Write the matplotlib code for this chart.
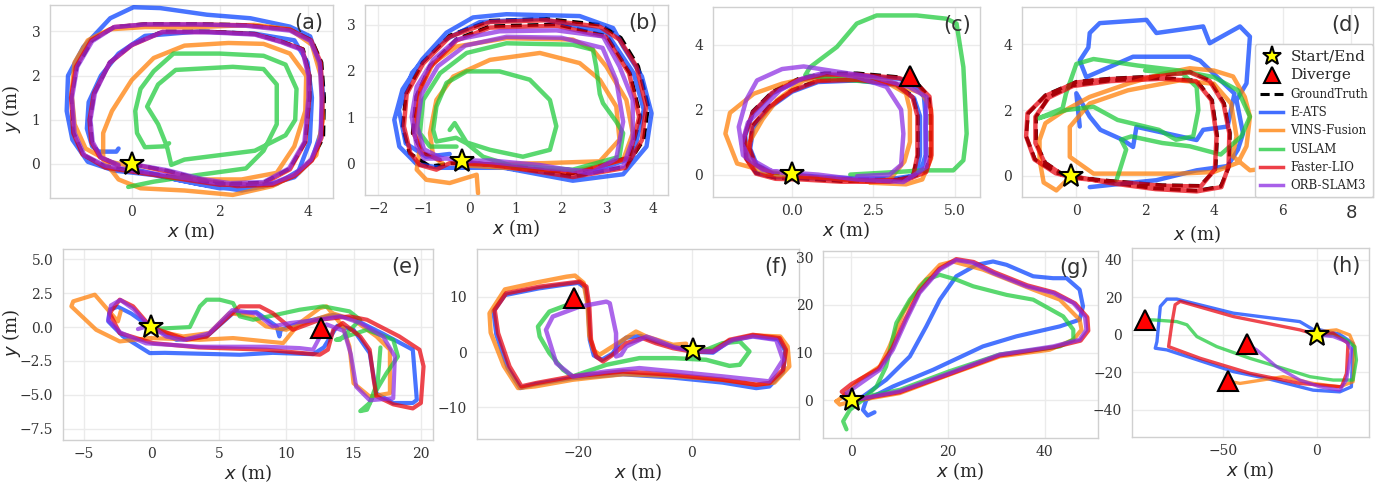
import numpy as np
import matplotlib.pyplot as plt
from matplotlib.lines import Line2D

plt.rcParams['font.family'] = ['DejaVu Serif']
plt.rcParams['mathtext.fontset'] = 'dejavusans'

W, H = 1391, 484

METHODS = ['E-ATS', 'VINS-Fusion', 'USLAM', 'Faster-LIO', 'ORB-SLAM3']
COLORS = {'E-ATS': '#023eff', 'VINS-Fusion': '#ff7c00', 'USLAM': '#1ac938',
          'Faster-LIO': '#e8000b', 'ORB-SLAM3': '#8b2be2'}

# ---------------- (a) ----------------
A_GT = [(0.0, 0.0), (0.8, -0.15), (1.6, -0.35), (2.4, -0.48), (3.2, -0.45), (3.7, -0.25), (4.1, 0.1),
        (4.36, 0.6), (4.38, 1.5), (4.32, 2.3), (4.1, 2.8), (3.6, 3.05), (2.6, 3.15), (1.5, 3.17),
        (0.3, 3.17), (-0.4, 3.1), (-0.9, 2.8), (-1.25, 2.2), (-1.37, 1.5), (-1.32, 0.7), (-1.1, 0.2),
        (-0.6, -0.05), (0.0, -0.15), (1.0, -0.3), (2.0, -0.45), (3.0, -0.42), (3.6, -0.1), (3.95, 0.5),
        (4.05, 1.5), (4.05, 2.0), (3.9, 2.6), (3.4, 2.78), (2.8, 2.95), (1.8, 3.0), (0.7, 3.0),
        (0.0, 2.7), (-0.5, 2.3), (-0.85, 1.6), (-0.95, 1.0), (-0.9, 0.5), (-0.7, 0.15), (-0.3, -0.02)]
A_EATS = [(0.0, -0.1), (1.0, -0.35), (2.0, -0.55), (3.0, -0.5), (3.7, -0.3), (4.1, 0.1), (4.3, 0.7),
          (4.35, 1.6), (4.29, 2.2), (4.06, 2.89), (3.6, 3.11), (2.7, 3.3), (1.71, 3.38), (0.65, 3.53),
          (0.04, 3.55), (-0.49, 3.3), (-1.1, 2.65), (-1.45, 2.0), (-1.48, 1.2), (-1.35, 0.55),
          (-1.0, 0.05), (-0.4, -0.15), (0.5, -0.25), (1.5, -0.45), (2.5, -0.6), (3.3, -0.45),
          (3.8, -0.15), (4.05, 0.5), (4.1, 1.5), (4.0, 2.3), (3.7, 2.8), (2.8, 2.95), (1.5, 3.0),
          (0.3, 2.9), (-0.3, 2.5), (-0.7, 2.0), (-0.98, 1.4), (-1.02, 0.8), (-0.9, 0.4), (-0.75, 0.28),
          (-0.35, 0.28), (-0.3, 0.35)]
A_VINS = [(0.0, -0.05), (-0.5, 0.05), (-1.05, 0.35), (-1.3, 0.9), (-1.37, 1.6), (-1.3, 2.3), (-1.0, 2.8),
          (-0.5, 3.05), (0.3, 3.1), (1.5, 3.1), (2.8, 3.15), (3.6, 3.05), (4.1, 2.7), (4.3, 2.0),
          (4.35, 1.0), (4.2, 0.2), (3.8, -0.2), (3.2, -0.5), (2.3, -0.7), (1.2, -0.6), (0.2, -0.55),
          (-0.3, -0.35), (-0.65, 0.1), (-0.65, 0.7), (-0.45, 1.2), (0.0, 1.9), (0.5, 2.4), (1.2, 2.68),
          (2.2, 2.74), (3.0, 2.72), (3.6, 2.5), (3.97, 2.0), (3.95, 1.2), (3.7, 0.4), (3.3, -0.2),
          (2.5, -0.35), (1.5, -0.35), (0.8, -0.3)]
A_USLAM = [(0.85, 0.47), (0.75, 0.4), (0.3, 0.38), (0.12, 0.7), (0.08, 1.2), (0.2, 1.7), (0.5, 2.1),
           (0.95, 2.5), (2.0, 2.5), (3.0, 2.45), (3.5, 2.25), (3.75, 1.7), (3.72, 1.0), (3.5, 0.65),
           (2.8, 0.3), (2.0, 0.2), (1.2, 0.1), (0.9, -0.02), (0.8, 0.4), (0.6, 0.9), (0.35, 1.3),
           (0.6, 1.8), (1.0, 2.13), (2.3, 2.2), (3.0, 2.15), (3.3, 1.8), (3.3, 0.9), (3.0, 0.3),
           (2.6, -0.1), (1.5, -0.25), (0.5, -0.4), (-0.08, -0.52)]
A_FLIO = [(0.0, 0.0), (0.8, -0.17), (1.6, -0.37), (2.4, -0.5), (3.2, -0.47), (3.7, -0.27), (4.1, 0.08),
          (4.32, 0.6), (4.34, 1.5), (4.3, 2.3), (4.08, 2.8), (3.6, 3.04), (2.6, 3.14), (1.5, 3.16),
          (0.3, 3.16), (-0.4, 3.1), (-0.92, 2.8), (-1.27, 2.2), (-1.38, 1.5), (-1.33, 0.7), (-1.12, 0.22),
          (-0.6, -0.08), (0.0, -0.17), (1.0, -0.32), (2.0, -0.47), (3.0, -0.44), (3.6, -0.12), (3.95, 0.5),
          (4.04, 1.5), (4.04, 2.0), (3.88, 2.6), (3.4, 2.77), (2.8, 2.94), (1.8, 2.99), (0.7, 2.99),
          (0.0, 2.69), (-0.5, 2.29), (-0.86, 1.6), (-0.96, 1.0), (-0.92, 0.5), (-0.72, 0.15), (-0.3, -0.04)]
A_ORB = [(0.0, 0.0), (0.8, -0.14), (1.6, -0.34), (2.4, -0.46), (3.2, -0.44), (3.7, -0.24), (4.08, 0.1),
         (4.3, 0.6), (4.32, 1.5), (4.28, 2.3), (4.06, 2.79), (3.6, 3.02), (2.6, 3.13), (1.5, 3.16),
         (0.3, 3.16), (-0.4, 3.1), (-0.9, 2.78), (-1.24, 2.2), (-1.36, 1.5), (-1.3, 0.7), (-1.08, 0.2),
         (-0.6, -0.04), (0.0, -0.14), (1.0, -0.29), (2.0, -0.44), (3.0, -0.41), (3.58, -0.1), (3.93, 0.5),
         (4.02, 1.5), (4.02, 2.0), (3.88, 2.58), (3.4, 2.76), (2.8, 2.93), (1.8, 2.98), (0.7, 2.99),
         (0.0, 2.7), (-0.5, 2.3), (-0.84, 1.6), (-0.94, 1.0), (-0.89, 0.5), (-0.7, 0.15), (-0.3, -0.02)]

# ---------------- (b) ----------------
B_GT = [(-0.18, 0.04), (0.8, -0.07), (2.25, -0.29), (3.42, -0.07), (3.8, 0.51), (3.9, 1.23), (3.68, 2.1),
        (3.3, 2.72), (2.86, 3.0), (1.67, 3.13), (0.44, 3.09), (-0.44, 2.77), (-1.03, 2.19), (-1.39, 1.52),
        (-1.47, 0.8), (-1.32, 0.22), (-0.87, -0.07), (-0.4, 0.0), (0.6, -0.02), (2.25, -0.22),
        (3.5, 0.14), (3.73, 1.01), (3.5, 1.95), (2.99, 2.76), (1.89, 3.01), (0.44, 2.97), (-0.29, 2.69),
        (-0.87, 2.11), (-1.17, 1.45), (-1.25, 0.65), (-1.03, 0.22), (-0.65, 0.07)]
B_EATS = [(-0.18, 0.04), (0.8, -0.11), (2.25, -0.38), (3.35, -0.24), (3.86, 0.36), (3.97, 1.08),
          (3.76, 1.88), (3.35, 2.53), (3.13, 2.93), (2.4, 3.19), (0.8, 3.23), (0.07, 3.16), (-0.51, 2.83),
          (-1.04, 2.25), (-1.47, 1.6), (-1.65, 0.94), (-1.54, 0.36), (-1.16, -0.02), (-0.65, -0.1),
          (0.8, -0.1), (2.25, -0.33), (3.56, 0.12), (3.8, 1.16), (3.58, 1.95), (2.98, 2.84), (1.53, 3.13),
          (0.22, 3.06), (-0.65, 2.62), (-1.26, 1.96), (-1.55, 1.16), (-1.4, 0.43), (-0.95, 0.14),
          (-0.44, 0.2)]
B_VINS = [(0.18, -0.65), (0.15, -0.25), (-0.44, -0.43), (-0.95, -0.36), (-1.16, -0.14), (-1.09, 0.36),
          (-1.16, 0.94), (-1.09, 1.59), (-0.8, 2.17), (-0.29, 2.53), (0.8, 2.71), (2.25, 2.68),
          (2.69, 2.46), (2.98, 2.1), (3.42, 1.37), (3.56, 0.65), (3.35, 0.07), (2.25, -0.18), (0.8, -0.1),
          (-0.1, -0.05), (0.5, -0.02), (1.6, 0.0), (2.84, 0.04), (3.27, 0.51), (3.2, 1.23), (2.84, 1.81),
          (2.4, 2.17), (1.53, 2.39), (0.44, 2.24), (-0.36, 1.88), (-0.73, 1.37), (-0.87, 0.65),
          (-0.8, 0.14), (-0.6, 0.0)]
B_USLAM = [(-0.29, 0.36), (-0.87, 0.36), (-1.09, 0.65), (-1.02, 1.37), (-0.65, 1.95), (-0.07, 2.39),
           (0.8, 2.6), (2.25, 2.57), (2.69, 2.46), (2.76, 2.1), (2.84, 1.5), (2.91, 1.3), (3.2, 0.9),
           (3.35, 0.65), (3.27, 0.14), (2.25, -0.14), (0.9, -0.05), (0.29, 0.14), (-0.07, 0.43),
           (-0.3, 0.55), (-0.73, 0.47), (-0.8, 0.72), (-0.73, 1.23), (-0.51, 1.74), (-0.07, 1.99),
           (0.65, 1.99), (1.31, 1.81), (1.75, 1.37), (1.89, 0.8), (1.75, 0.29), (1.16, 0.14), (0.44, 0.29),
           (-0.07, 0.45), (-0.33, 0.87), (-0.44, 0.72)]
B_FLIO = [(-0.18, 0.04), (0.8, -0.08), (2.25, -0.3), (3.4, -0.1), (3.76, 0.5), (3.85, 1.23), (3.64, 2.1),
          (3.27, 2.68), (2.84, 2.96), (1.67, 3.1), (0.44, 3.06), (-0.44, 2.74), (-1.02, 2.16), (-1.38, 1.5),
          (-1.44, 0.8), (-1.3, 0.22), (-1.09, -0.04), (-0.73, -0.14), (-0.44, 0.0), (0.6, -0.04),
          (2.25, -0.24), (3.48, 0.12), (3.7, 1.0), (3.48, 1.95), (2.97, 2.74), (1.89, 2.98), (0.44, 2.94),
          (-0.29, 2.66), (-0.87, 2.08), (-1.16, 1.44), (-1.23, 0.65), (-1.02, 0.22), (-0.65, 0.07)]
B_ORB = [(-0.18, 0.04), (0.44, 0.06), (1.53, -0.04), (2.62, -0.22), (3.35, -0.07), (3.56, 0.51),
         (3.56, 1.37), (3.27, 2.1), (2.91, 2.75), (1.89, 2.88), (0.65, 2.86), (-0.29, 2.68), (-0.8, 2.24),
         (-1.16, 1.66), (-1.27, 1.01), (-1.16, 0.36), (-1.0, 0.1), (-0.5, 0.1), (0.5, 0.02), (1.8, -0.12),
         (2.7, -0.18), (3.2, 0.1), (3.35, 0.9), (3.2, 1.8), (2.9, 2.5), (2.0, 2.72), (0.8, 2.74),
         (-0.1, 2.55), (-0.7, 2.1), (-1.05, 1.5), (-1.15, 0.8), (-1.0, 0.3), (-0.6, 0.1)]

# ---------------- (c) ----------------
C_GT = [(0.0, 0.0), (1.0, -0.1), (2.0, -0.15), (3.5, -0.15), (4.1, 0.1), (4.25, 0.6), (4.25, 1.8),
        (4.2, 2.4), (3.9, 2.75), (3.3, 3.0), (2.0, 3.12), (1.0, 3.12), (0.2, 2.95), (-0.6, 2.55),
        (-1.2, 1.95), (-1.45, 1.2), (-1.4, 0.5), (-1.1, 0.05), (-0.5, -0.1), (0.3, -0.12), (1.5, -0.2),
        (3.0, -0.2), (3.7, -0.05), (3.87, 0.6), (3.87, 1.8), (3.72, 2.4), (3.2, 2.8), (2.0, 2.95),
        (0.8, 2.9), (0.0, 2.6), (-0.7, 2.1), (-1.2, 1.5), (-1.3, 0.8), (-1.1, 0.3), (-0.6, 0.05), (0.0, 0.0)]
C_EATS = [(0.0, 0.0), (1.0, -0.08), (2.0, -0.12), (3.5, -0.12), (3.95, 0.1), (4.1, 0.6), (4.1, 1.8),
          (4.05, 2.4), (3.8, 2.7), (3.3, 2.95), (2.0, 3.05), (1.0, 3.05), (0.2, 2.9), (-0.6, 2.5),
          (-1.2, 1.9), (-1.43, 1.2), (-1.38, 0.5), (-1.08, 0.05), (-0.5, -0.08), (0.3, -0.1), (1.5, -0.15),
          (3.0, -0.15), (3.8, -0.02), (3.93, 0.6), (3.93, 1.8), (3.75, 2.35), (3.2, 2.75), (2.0, 2.9),
          (0.8, 2.85), (0.0, 2.55), (-0.7, 2.05), (-1.18, 1.45), (-1.28, 0.8), (-1.08, 0.3), (-0.6, 0.05)]
C_VINS = [(0.0, 0.0), (-0.8, 0.1), (-1.68, 0.34), (-2.04, 1.26), (-1.9, 1.9), (-1.17, 2.49), (-0.3, 2.8),
          (0.15, 2.9), (1.5, 3.0), (2.8, 2.9), (3.5, 2.5), (3.62, 2.0), (3.62, 1.0), (3.45, 0.4),
          (3.0, -0.15), (2.4, -0.23), (1.0, -0.1), (0.0, -0.05), (-0.8, 0.0), (-1.33, 0.4), (-1.33, 0.95),
          (-0.9, 1.7), (-0.46, 2.29), (0.36, 2.9), (1.5, 2.95), (3.0, 2.85), (4.0, 2.5), (4.27, 2.0),
          (4.27, 0.5), (4.0, -0.15), (3.5, -0.3), (2.4, -0.25)]
C_USLAM = [(1.79, 0.0), (3.21, 0.08), (4.03, 0.13), (4.95, 0.13), (5.26, 0.44), (5.36, 1.26), (5.3, 2.5),
           (5.26, 3.31), (5.05, 4.65), (4.74, 4.8), (3.83, 4.9), (2.6, 4.9), (1.99, 4.65), (1.38, 3.93),
           (0.56, 3.31), (0.41, 3.06), (1.2, 2.95), (2.5, 2.85)]
C_FLIO = [(0.0, 0.0), (1.0, -0.12), (2.0, -0.17), (3.5, -0.17), (4.12, 0.08), (4.28, 0.6), (4.28, 1.8),
          (4.22, 2.4), (3.9, 2.72), (3.3, 2.97), (2.0, 3.08), (1.0, 3.08), (0.2, 2.92), (-0.6, 2.52),
          (-1.2, 1.92), (-1.45, 1.2), (-1.41, 0.5), (-1.1, 0.03), (-0.5, -0.13), (0.3, -0.15), (1.5, -0.22),
          (3.0, -0.22), (3.72, -0.07), (3.85, 0.6), (3.85, 1.8), (3.7, 2.38), (3.2, 2.78), (2.0, 2.92),
          (0.8, 2.88), (0.0, 2.58), (-0.7, 2.08), (-1.22, 1.5), (-1.3, 0.8), (-1.12, 0.3), (-0.6, 0.03)]
C_ORB = [(0.0, 0.02), (-0.9, 0.15), (-1.5, 0.6), (-1.63, 1.47), (-1.4, 2.3), (-1.07, 2.9), (-0.3, 3.25),
         (0.36, 3.33), (1.2, 3.2), (2.5, 3.0), (3.6, 2.7), (4.13, 2.39), (4.1, 1.5), (4.13, 0.24),
         (3.42, -0.23), (2.0, -0.15), (0.8, 0.0), (-0.6, 0.1), (-1.3, 0.5), (-1.53, 0.95), (-1.35, 1.6),
         (-0.97, 1.98), (-0.36, 2.6), (0.3, 2.95), (1.07, 3.16), (2.0, 3.0), (2.9, 2.7), (3.35, 2.0),
         (3.42, 1.26), (3.35, 0.3), (3.0, 0.0), (2.0, -0.05)]

# ---------------- (d) ----------------
D_GT = [(-0.15, 0.0), (1.0, -0.2), (2.3, -0.38), (3.5, -0.45), (4.2, -0.32), (4.45, 0.3), (4.47, 1.3),
        (4.3, 2.2), (3.9, 2.9), (3.3, 3.17), (2.2, 3.02), (1.0, 2.96), (0.0, 2.86), (-0.9, 2.45),
        (-1.4, 1.9), (-1.46, 1.2), (-1.2, 0.5), (-0.6, 0.1), (0.0, -0.05), (1.0, -0.15), (2.5, -0.28),
        (3.6, -0.3), (4.05, 0.2), (4.1, 1.2), (3.95, 2.3), (3.5, 2.9), (2.5, 2.97), (1.0, 2.9),
        (-0.1, 2.75), (-0.8, 2.4), (-1.17, 1.8), (-1.17, 1.0), (-0.9, 0.4), (-0.4, 0.05)]
D_EATS = [(0.39, -0.34), (1.2, -0.25), (2.33, -0.13), (3.5, 0.17), (4.4, 0.3), (4.7, 0.8), (4.85, 1.29),
          (4.66, 2.3), (4.95, 2.81), (5.05, 4.23), (4.76, 4.54), (3.88, 4.03), (3.69, 4.54), (2.33, 4.34),
          (2.04, 4.74), (0.68, 4.64), (0.39, 4.34), (0.35, 3.9), (0.1, 3.5), (0.29, 3.0), (1.65, 3.62),
          (3.3, 3.62), (3.6, 3.5), (4.6, 2.5), (4.4, 1.5), (3.69, 1.4), (3.5, 1.09), (1.75, 1.49),
          (1.65, 0.88), (1.36, 1.09), (0.7, 1.4), (0.39, 1.8), (0.0, 2.51), (0.1, 1.5)]
D_VINS = [(-0.15, 0.0), (-0.58, -0.44), (-0.95, -0.2), (-1.07, 0.5), (-1.07, 1.09), (-0.9, 1.6),
          (-0.4, 1.95), (0.39, 2.4), (1.5, 2.8), (2.5, 3.1), (3.3, 3.27), (4.0, 3.2), (4.56, 3.02),
          (4.9, 2.4), (5.05, 1.8), (4.95, 0.9), (4.7, 0.4), (4.0, 0.12), (3.0, 0.07), (1.5, 0.07),
          (0.5, 0.07), (-0.19, 0.58), (-0.19, 1.49), (0.39, 2.2), (1.5, 2.6), (3.0, 2.9), (4.0, 2.8),
          (4.5, 2.2), (4.66, 1.2), (4.55, 0.6), (5.05, 0.17), (5.3, 0.2)]
D_USLAM = [(1.17, -0.13), (1.3, 0.3), (1.45, 0.8), (1.3, 1.1), (1.6, 1.2), (2.5, 1.0), (3.3, 0.9),
           (4.2, 0.65), (4.8, 1.2), (5.05, 1.8), (4.7, 2.6), (4.0, 3.0), (3.0, 3.2), (1.8, 3.35),
           (0.5, 3.55), (0.0, 3.4), (-0.3, 2.5), (-0.4, 2.05), (-1.1, 1.75), (-0.3, 2.0), (0.5, 2.1),
           (1.2, 1.7), (2.4, 1.4), (2.9, 1.1), (3.4, 1.2), (3.55, 2.0), (3.5, 2.7), (3.1, 3.1), (2.0, 3.2)]
D_FLIO = [(-0.15, 0.0), (1.0, -0.22), (2.3, -0.4), (3.5, -0.47), (4.22, -0.34), (4.43, 0.3), (4.45, 1.3),
          (4.28, 2.2), (3.88, 2.88), (3.3, 3.15), (2.2, 3.0), (1.0, 2.94), (0.0, 2.84), (-0.9, 2.43),
          (-1.42, 1.9), (-1.46, 1.2), (-1.22, 0.5), (-0.6, 0.08), (0.0, -0.07), (1.0, -0.17), (2.5, -0.3),
          (3.62, -0.32), (4.03, 0.2), (4.08, 1.2), (3.93, 2.3), (3.48, 2.88), (2.5, 2.95), (1.0, 2.88),
          (-0.1, 2.73), (-0.8, 2.38), (-1.19, 1.8), (-1.19, 1.0), (-0.92, 0.4), (-0.4, 0.03)]

# ---------------- (e) ----------------
E_EATS = [(0.0, 0.0), (1.86, -0.94), (4.1, -0.7), (6.06, 1.03), (7.8, 1.1), (9.3, 0.05), (9.5, -0.69),
          (9.6, -0.2), (11.0, 0.3), (13.5, 0.9), (15.0, 0.6), (17.2, -0.5), (19.4, -1.67), (19.7, -5.37),
          (19.4, -5.6), (17.95, -5.6), (16.7, -4.9), (16.2, -1.92), (15.0, -0.2), (13.8, 0.1),
          (12.8, -1.5), (12.0, -2.0), (9.0, -1.9), (6.56, -2.04), (1.0, -1.9), (-0.12, -1.92),
          (-2.1, -0.69), (-3.2, 0.42), (-3.1, 1.28), (-2.5, 1.5), (-1.5, 1.0), (-0.5, 0.3)]
E_VINS = [(-2.28, 1.16), (-2.48, 0.42), (-4.2, 2.39), (-5.8, 1.9), (-5.94, 1.53), (-4.1, -0.2),
          (-2.35, -1.06), (-0.12, -0.81), (3.59, -0.94), (6.06, -0.81), (9.78, -1.18), (11.0, 0.3),
          (12.5, 1.4), (13.0, 1.53), (14.2, 0.05), (14.7, -1.43), (15.0, -4.14), (16.2, -5.12),
          (17.7, -4.88), (17.7, -1.67), (16.7, -0.69), (15.0, 0.54), (13.5, 1.0), (12.0, 0.5),
          (10.0, -0.2), (8.5, 0.05), (7.5, 0.79), (5.8, 1.03), (4.3, -0.44), (2.35, -0.69), (0.5, -0.3)]
E_USLAM = [(-0.12, -0.15), (2.85, 0.0), (3.6, 1.53), (4.1, 2.02), (5.07, 2.02), (6.06, 1.77), (6.56, 0.79),
           (7.55, 0.54), (11.0, 1.28), (12.75, 1.53), (14.7, 1.16), (15.5, 0.54), (14.0, -0.94),
           (13.7, -0.94), (16.0, -0.2), (17.95, -0.94), (18.3, -2.17), (17.45, -3.4), (16.5, -5.0),
           (16.0, -6.1), (15.5, -6.2), (16.2, -5.6), (16.8, -4.0), (17.0, -1.5)]
E_FLIO = [(0.0, 0.0), (2.6, -0.94), (4.1, -0.69), (6.56, 1.53), (8.04, 1.53), (9.0, 1.03), (10.5, -0.2),
          (12.5, 0.54), (14.7, 0.79), (16.0, 0.54), (18.4, -0.69), (19.9, -1.67), (20.2, -2.9),
          (20.0, -5.6), (19.4, -6.0), (17.95, -5.7), (16.7, -5.1), (16.5, -3.9), (16.2, -1.67),
          (15.5, -0.69), (14.2, 0.3), (13.5, -0.2), (13.1, -1.67), (12.5, -2.04), (8.54, -1.67),
          (3.5, -1.5), (0.12, -1.18), (-2.35, -0.44), (-3.1, 1.03), (-2.35, 2.02), (-1.36, 1.53), (-0.3, 0.3)]
E_ORB = [(0.0, 0.05), (1.1, -0.7), (2.4, -0.95), (4.3, -0.45), (6.0, 1.25), (7.8, 1.0), (9.0, 0.05),
         (10.3, 0.3), (12.5, 0.55), (14.0, 0.8), (15.5, 0.3), (17.2, -0.7), (18.07, -2.17), (17.95, -5.25),
         (16.2, -5.4), (15.2, -4.4), (14.8, -2.0), (14.3, -0.3), (13.0, 0.2), (12.0, -1.67), (11.0, -1.55),
         (8.5, -1.45), (3.6, -1.45), (-0.4, -1.2), (-2.3, -0.4), (-3.2, 0.5), (-3.0, 1.6), (-2.3, 2.0),
         (-1.3, 1.3), (-0.2, 0.1), (-1.0, -0.15)]

# ---------------- (f) ----------------
F_EATS = [(0.0, 0.3), (-3.3, 1.0), (-6.3, 1.9), (-9.0, 2.9), (-11.5, 2.6), (-12.8, 1.5), (-13.9, -0.3),
          (-15.8, -1.4), (-17.2, -0.6), (-17.9, 2.2), (-18.2, 8.2), (-18.7, 11.6), (-19.9, 12.5),
          (-22.2, 12.2), (-26.9, 11.5), (-32.8, 10.3), (-34.8, 7.4), (-34.3, 3.2), (-32.3, -2.9),
          (-30.1, -6.5), (-27.5, -5.8), (-20.9, -4.7), (-12.1, -4.0), (-3.3, -4.6), (5.4, -5.5),
          (11.3, -6.5), (13.6, -6.2), (16.0, -3.6), (16.4, 0.2), (15.2, 2.3), (10.7, 2.9), (6.6, 2.0),
          (3.7, -0.1), (0.0, 0.1)]
F_VINS = [(-1.0, 1.5), (-3.3, 1.3), (-8.0, 2.8), (-9.8, 3.7), (-13.9, 1.0), (-16.2, -0.5), (-17.2, 0.3),
          (-18.0, 3.0), (-18.3, 8.5), (-19.0, 12.5), (-20.5, 13.8), (-22.0, 13.6), (-27.0, 12.6),
          (-32.8, 11.3), (-35.5, 7.0), (-35.3, 3.5), (-33.0, -2.5), (-30.5, -6.5), (-27.5, -6.2),
          (-20.9, -5.0), (-12.1, -4.0), (-3.3, -4.3), (5.4, -5.0), (11.3, -5.9), (14.5, -5.5),
          (17.1, -2.6), (16.8, 1.0), (15.5, 2.8), (10.7, 3.0), (6.6, 2.0), (3.7, 0.4), (0.0, 0.5)]
F_USLAM = [(-20.3, 9.1), (-25.0, 7.3), (-27.0, 4.6), (-26.7, 2.8), (-25.0, -0.2), (-22.6, -3.2),
           (-20.9, -4.4), (-15.0, -2.3), (-9.2, -1.1), (-3.3, -1.1), (2.5, -1.4), (6.6, -2.5), (8.4, -2.3),
           (10.1, 0.1), (8.4, 1.9), (5.4, 1.6), (2.5, 0.4), (0.0, 0.3)]
F_FLIO = [(0.0, 0.1), (-3.3, 0.7), (-6.3, 1.6), (-8.6, 2.5), (-11.5, 1.6), (-13.9, -0.5), (-15.6, -1.7),
          (-16.8, -0.8), (-17.7, 2.2), (-18.0, 8.2), (-18.5, 11.8), (-19.7, 12.7), (-22.0, 12.4),
          (-26.7, 11.8), (-32.6, 10.6), (-34.6, 7.6), (-34.0, 3.4), (-32.0, -2.6), (-29.9, -6.2),
          (-27.3, -5.6), (-20.9, -4.4), (-12.1, -3.5), (-3.3, -4.1), (5.4, -5.0), (11.3, -5.9),
          (13.6, -5.6), (16.0, -3.2), (16.5, 0.4), (15.4, 2.5), (10.7, 3.1), (6.6, 2.2), (3.7, 0.1), (0.0, 0.1)]
F_ORB = [(0.0, 0.3), (3.7, 0.1), (7.2, 2.2), (10.7, 2.8), (14.8, 2.2), (16.0, -1.4), (13.6, -5.3),
         (5.4, -4.4), (-3.3, -3.5), (-9.2, -2.9), (-15.0, -3.5), (-20.9, -4.4), (-23.8, -2.0), (-25.6, 4.0),
         (-24.4, 6.4), (-19.7, 8.2), (-15.0, 9.1), (-14.4, 8.8), (-13.3, 3.4), (-13.3, -0.8), (-12.4, -0.5),
         (-11.5, 1.0), (-8.0, 2.8), (-6.3, 2.2), (-3.0, 0.8), (0.0, 0.3)]

# ---------------- (g) ----------------
G_EATS = [(0.2, 0.0), (2.4, 0.8), (7.2, 4.3), (12.1, 9.2), (15.5, 15.5), (18.3, 21.1), (21.7, 26.0),
          (25.9, 28.4), (29.3, 29.1), (32.1, 28.4), (37.6, 26.0), (41.7, 25.6), (44.5, 25.6), (47.2, 23.2),
          (47.9, 19.7), (47.2, 16.9), (43.1, 15.5), (34.1, 13.4), (27.2, 11.3), (16.9, 6.4), (8.6, 2.9),
          (3.1, 0.1), (2.4, -2.0), (3.4, -3.2), (4.8, -2.5)]
G_VINS = [(-3.1, -0.2), (-1.7, 0.8), (1.7, 4.3), (5.9, 7.1), (7.9, 11.3), (10.7, 18.3), (14.1, 23.9),
          (18.3, 28.4), (21.0, 29.1), (27.2, 27.4), (37.6, 23.2), (43.1, 21.1), (47.2, 16.9), (47.6, 14.8),
          (45.9, 12.7), (41.0, 10.6), (30.7, 9.2), (20.3, 5.4), (10.0, 1.5), (0.3, -0.2), (-2.4, -0.9),
          (-3.1, -0.2)]
G_USLAM = [(-1.0, -6.1), (-1.7, -4.4), (-0.3, -2.0), (2.4, 0.1), (5.2, 2.9), (7.2, 7.1), (9.3, 16.2),
           (12.1, 21.1), (15.5, 25.3), (18.3, 26.3), (21.7, 25.3), (25.2, 23.9), (32.1, 22.1), (37.6, 21.1),
           (43.8, 17.6), (45.9, 14.8), (45.9, 12.7), (43.1, 11.3), (30.7, 9.6), (20.3, 6.1), (10.0, 2.2),
           (3.1, 0.8)]
G_FLIO = [(0.2, 0.0), (-2.0, 1.8), (0.0, 3.4), (5.6, 6.6), (8.4, 10.8), (11.2, 17.1), (14.0, 22.7),
          (18.2, 27.6), (21.7, 29.6), (25.3, 29.0), (29.5, 26.9), (36.4, 24.1), (42.0, 22.6), (46.3, 20.3),
          (48.8, 17.4), (49.0, 14.6), (47.4, 12.5), (41.7, 11.1), (30.7, 9.4), (20.3, 5.5), (10.0, 1.7),
          (0.2, 0.0)]
G_ORB = [(0.2, 0.0), (-1.0, 1.5), (1.0, 2.9), (5.9, 6.4), (8.6, 10.6), (11.4, 16.9), (14.1, 22.5),
         (18.3, 27.4), (21.7, 29.4), (25.2, 28.8), (29.3, 26.7), (36.2, 23.9), (41.7, 22.5), (45.9, 20.4),
         (48.3, 17.6), (48.6, 14.8), (47.2, 12.7), (41.7, 11.3), (30.7, 9.6), (20.3, 5.7), (10.0, 1.9),
         (0.2, 0.0)]

# ---------------- (h) ----------------
H_EATS = [(0.4, 0.0), (0.0, 1.8), (-8.9, 7.1), (-44.3, 11.6), (-74.5, 19.1), (-79.8, 19.1), (-83.3, 15.2),
          (-85.1, -3.6), (-86.0, -7.1), (-79.8, -8.0), (-44.3, -19.6), (-26.6, -23.2), (-1.8, -29.5),
          (12.4, -30.4), (18.6, -27.7), (19.5, -4.5), (12.0, 0.5), (0.4, 3.0)]
H_VINS = [(-47.3, -24.6), (-40.8, -25.9), (-17.7, -22.3), (-1.8, -25.9), (12.4, -27.7), (19.5, -25.0),
          (20.4, -6.25), (17.7, 0.0), (10.6, 2.7), (1.8, 1.8)]
H_USLAM = [(-91.7, 8.0), (-86.9, 8.0), (-74.5, 7.1), (-69.1, 5.4), (-63.8, -0.9), (-53.2, -6.25),
           (-35.5, -12.5), (-17.7, -17.9), (-3.5, -22.3), (8.9, -24.1), (19.5, -24.1), (21.3, -13.4),
           (20.4, -6.25), (16.0, -2.7), (8.9, 0.0), (0.4, 0.0)]
H_FLIO = [(0.4, 0.0), (8.9, 0.9), (16.8, -4.5), (16.0, -20.5), (13.3, -27.7), (-8.9, -25.9), (-35.5, -20.5),
          (-62.0, -12.5), (-78.9, -6.25), (-77.1, 6.25), (-75.4, 16.1), (-72.7, 17.9), (-44.3, 9.8),
          (-8.9, 2.7), (0.4, 0.0)]
H_ORB = [(-37.2, -4.8), (-31.9, -8.0), (-21.3, -17.0), (-8.9, -24.1), (1.8, -27.7), (12.4, -29.5),
         (16.0, -24.1), (18.6, -8.0), (16.0, -3.6), (8.9, -0.9), (0.4, 0.0)]

STARTS = {'a': (0.0, 0.0), 'b': (-0.18, 0.04), 'c': (0.0, 0.03), 'd': (-0.15, 0.0),
          'e': (0.0, 0.0), 'f': (0.18, 0.3), 'g': (0.2, 0.0), 'h': (0.4, 0.0)}
DIVERGE = {'c': [(3.62, 3.03)], 'e': [(12.6, -0.1)], 'f': [(-20.6, 9.7)],
           'h': [(-91.7, 8.0), (-37.2, -4.8), (-47.3, -24.6)]}

# panel boxes in pixels: left, right, top, bottom
panels = [
    ('a', (50, 333, 5, 198), (-1.86, 4.58), (-0.77, 3.6), [0, 2, 4], [0, 1, 2, 3],
     [A_GT, A_EATS, A_VINS, A_USLAM, A_FLIO, A_ORB], 3.2),
    ('b', (365, 668, 5, 195), (-2.29, 4.33), (-0.69, 3.43), [-2, -1, 0, 1, 2, 3, 4], [0, 1, 2, 3],
     [B_GT, B_EATS, B_VINS, B_USLAM, B_FLIO, B_ORB], 3.2),
    ('c', (713, 980, 7, 197), (-2.42, 5.77), (-0.69, 5.16), [0, 2.5, 5], [0, 2, 4],
     [C_GT, C_EATS, C_VINS, C_USLAM, C_FLIO, C_ORB], 3.2),
    ('d', (1022, 1373, 7, 197), (-1.58, 8.63), (-0.64, 5.13), [0, 2, 4, 6, 8], [0, 2, 4],
     [D_GT, D_EATS, D_VINS, D_USLAM, D_FLIO, None], 3.2),
    ('e', (63, 433, 249, 440), (-6.56, 20.9), (-8.33, 5.76), [-5, 0, 5, 10, 15, 20],
     [-7.5, -5, -2.5, 0, 2.5, 5], [None, E_EATS, E_VINS, E_USLAM, E_FLIO, E_ORB], 3.0),
    ('f', (477, 799, 249, 439), (-37.7, 18.8), (-15.7, 18.6), [-20, 0], [-10, 0, 10],
     [None, F_EATS, F_VINS, F_USLAM, F_FLIO, F_ORB], 3.2),
    ('g', (823, 1098, 251, 438), (-5.86, 51), (-7.9, 31.3), [0, 20, 40], [0, 10, 20, 30],
     [None, G_EATS, G_VINS, G_USLAM, G_FLIO, G_ORB], 3.0),
    ('h', (1132, 1369, 248, 437), (-98.4, 28), (-54.5, 46.4), [-50, 0], [-40, -20, 0, 20, 40],
     [None, H_EATS, H_VINS, H_USLAM, H_FLIO, H_ORB], 2.4),
]

# y label: right edge of the rotated text, in axes fraction
YLABEL_POS = {'a': (-0.095, 0.46), 'e': (-0.108, 0.56)}

fig = plt.figure(figsize=(W / 100, H / 100), dpi=100)

for name, (l, r, t, b), xl, yl, xt, yt, tracks, lw in panels:
    ax = fig.add_axes([l / W, 1 - b / H, (r - l) / W, (b - t) / H])
    ax.set_xlim(*xl)
    ax.set_ylim(*yl)
    ax.set_xticks(xt)
    ax.set_yticks(yt)
    if name == 'c':
        ax.set_xticklabels(['0.0', '2.5', '5.0'])
    if name == 'e':
        ax.set_yticklabels(['\u22127.5', '\u22125.0', '\u22122.5', '0.0', '2.5', '5.0'])
    ax.grid(True, color='#ebebeb', lw=1.0, zorder=0)
    ax.set_axisbelow(True)
    for s in ax.spines.values():
        s.set_color('#d0d0d0')
        s.set_linewidth(1.0)
    ax.tick_params(length=0, labelsize=10, labelcolor='0.2')
    ax.tick_params(axis='x', pad=5)
    ax.tick_params(axis='y', pad=7)
    if name == 'd':
        ax.set_xticklabels(['0', '2', '4', '6', '8'])
        last = ax.get_xticklabels()[-1]
        last.set_fontsize(13)
        last.set_family('DejaVu Sans')
    ax.set_xlabel('$x$ (m)', fontsize=13, labelpad=1, color='0.15')
    if name in YLABEL_POS:
        ax.set_ylabel('$y$ (m)', fontsize=13, color='0.15')
        ax.yaxis.set_label_coords(*YLABEL_POS[name])

    gt = tracks[0]
    if gt is not None:
        p = np.array(gt)
        ax.plot(p[:, 0], p[:, 1], color='black', lw=2.6, ls=(0, (3, 1.6)), zorder=2)
    for m, tr in zip(METHODS, tracks[1:]):
        if tr is None:
            continue
        p = np.array(tr)
        ax.plot(p[:, 0], p[:, 1], color=COLORS[m], lw=lw, alpha=0.72,
                solid_capstyle='round', solid_joinstyle='round', zorder=3)

    sx, sy = STARTS[name]
    ax.plot([sx], [sy], marker='*', ms=18, mfc='#ffff00', mec='black', mew=1.5, ls='none', zorder=6)
    for dx, dy in DIVERGE.get(name, []):
        ax.plot([dx], [dy], marker='^', ms=14, mfc='#ff0000', mec='black', mew=1.5, ls='none', zorder=6)

    ax.text(0.965, 0.96, '(%s)' % name, transform=ax.transAxes, ha='right', va='top',
            fontsize=15, family='DejaVu Sans', color='0.2', zorder=7)

    if name == 'd':
        handles = [
            Line2D([], [], marker='*', ms=14, mfc='#ffff00', mec='black', mew=1.5, ls='none'),
            Line2D([], [], marker='^', ms=11, mfc='#ff0000', mec='black', mew=1.5, ls='none'),
            Line2D([], [], color='black', lw=2.2, ls=(0, (3, 1.6))),
        ] + [Line2D([], [], color=COLORS[m], lw=2.5, alpha=0.75) for m in METHODS]
        labels = ['Start/End', 'Diverge', 'GroundTruth'] + METHODS
        leg = ax.legend(handles, labels, loc='lower right', bbox_to_anchor=(1.0, 0.0),
                        borderaxespad=0.0, fontsize=8.5, labelspacing=0.45, handlelength=2.0,
                        handletextpad=0.6, borderpad=0.4, frameon=True, fancybox=True,
                        edgecolor='#d0d0d0', framealpha=1.0)
        leg.set_zorder(10)
        for txt in leg.get_texts()[:2]:
            txt.set_fontsize(11)
        for txt in leg.get_texts():
            txt.set_color('0.15')

fig.savefig('out.png', dpi=100, facecolor='white')
